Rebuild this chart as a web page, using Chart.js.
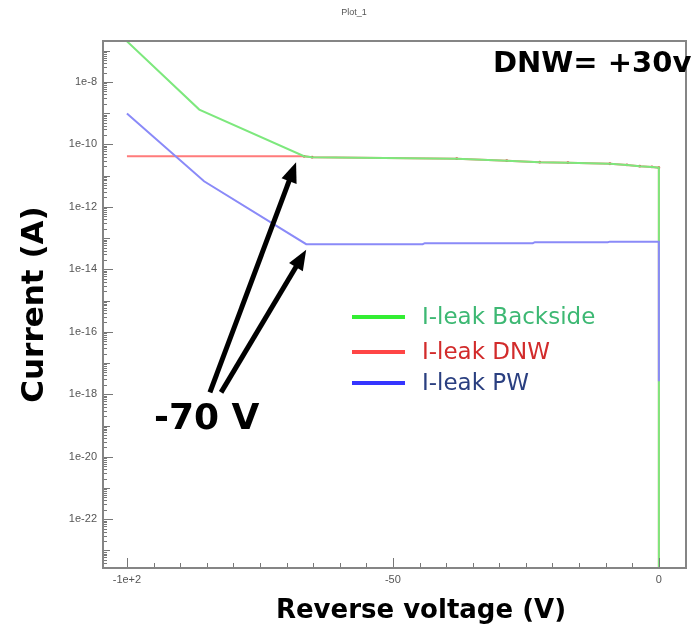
<!DOCTYPE html>
<html><head><meta charset="utf-8">
<script src="https://cdn.jsdelivr.net/npm/chart.js@4.4.1/dist/chart.umd.min.js"></script>
<style>html,body{margin:0;padding:0;background:#fff;}canvas{display:block;}</style>
</head><body>
<canvas id="c" width="698" height="624"></canvas>
<script>
// ---- data ----
const seriesNames = ['I-leak Backside', 'I-leak DNW', 'I-leak PW'];

const backsideV = [-100, -86.4, -66.7, -65.2, -38.0, -28.6, -22.4, -17.1, -9.2, -6.0, -3.6, -1.3, 0, 0];
const backsideI = [2.0e-7, 1.3e-9, 4.2e-11, 3.9e-11, 3.5e-11, 3.0e-11, 2.7e-11, 2.6e-11, 2.4e-11, 2.2e-11, 2.0e-11, 1.9e-11, 1.8e-11, 1e-30];

const dnwV = [-100, -66.7, -65.2, -38.0, -28.6, -22.4, -17.1, -9.2, -6.0, -3.6, -1.3, 0, 0];
const dnwI = [4.2e-11, 4.15e-11, 3.9e-11, 3.5e-11, 3.0e-11, 2.7e-11, 2.6e-11, 2.4e-11, 2.2e-11, 2.0e-11, 1.9e-11, 1.8e-11, 1e-30];

const pwV = [-100, -85.5, -66.3, -44.4, -44.0, -23.7, -23.3, -9.6, -9.2, 0, 0];
const pwI = [9.7e-10, 6.6e-12, 6.4e-14, 6.4e-14, 6.9e-14, 6.9e-14, 7.4e-14, 7.4e-14, 7.7e-14, 7.7e-14, 2.6e-18];

const xTickValues = [-100, -50, 0];
const xTickLabels = ['-1e+2', '-50', '0'];
const yTickValues = [1e-22, 1e-20, 1e-18, 1e-16, 1e-14, 1e-12, 1e-10, 1e-8];
const yTickLabels = ['1e-22', '1e-20', '1e-18', '1e-16', '1e-14', '1e-12', '1e-10', '1e-8'];

const chartTitle = 'Plot_1';
const xTitle = 'Reverse voltage (V)';
const yTitle = 'Current (A)';
const cornerNote = 'DNW= +30v';
const arrowNote = '-70 V';
const arrowNoteV = -85.0, arrowNoteI = 2e-19;
const arrowTailV = [-84.4, -82.3];
const arrowTailI = [1.15e-18, 1.15e-18];
const arrowTipV = [-68.2, -66.3];
const arrowTipI = [2.66e-11, 4.2e-14];

// ---- build ----
const pts = (xs, ys) => xs.map((x, i) => ({x: x, y: ys[i]}));

const lineColors = ['#7de87d', '#ff7b7b', '#8a8af8'];
const legendLineColors = ['#33ee33', '#ff4545', '#3535ff'];
const legendTextColors = ['#3db873', '#d22b2b', '#2a3f80'];

const overlay = {
  id: 'overlay',
  afterDraw(chart) {
    const ctx = chart.ctx;
    const ca = chart.chartArea;
    const xs = chart.scales.x, ys = chart.scales.y;
    ctx.save();
    // inward ticks
    ctx.strokeStyle = '#777';
    ctx.lineWidth = 1;
    ctx.beginPath();
    for (let v = -100; v <= 0; v += 5) {
      const px = Math.round(xs.getPixelForValue(v)) + 0.5;
      const len = (v % 50 === 0) ? 10 : 5;
      ctx.moveTo(px, ca.bottom); ctx.lineTo(px, ca.bottom - len);
    }
    for (let d = -24; d <= -7; d++) {
      for (let m = 1; m <= 9; m++) {
        const val = m * Math.pow(10, d);
        if (val < ys.min || val > ys.max) continue;
        const py = Math.round(ys.getPixelForValue(val)) + 0.5;
        let len = 4;
        if (m === 1) len = (d % 2 === 0) ? 10 : 7;
        ctx.moveTo(ca.left, py); ctx.lineTo(ca.left + len, py);
      }
    }
    ctx.stroke();
    // frame
    ctx.strokeStyle = '#858585';
    ctx.lineWidth = 2;
    ctx.strokeRect(ca.left, ca.top, ca.right - ca.left, ca.bottom - ca.top);

    // arrows
    ctx.fillStyle = '#000';
    ctx.strokeStyle = '#000';
    ctx.lineWidth = 5;
    ctx.lineCap = 'butt';
    for (let i = 0; i < arrowTailV.length; i++) {
      const x0 = xs.getPixelForValue(arrowTailV[i]), y0 = ys.getPixelForValue(arrowTailI[i]);
      const x1 = xs.getPixelForValue(arrowTipV[i]), y1 = ys.getPixelForValue(arrowTipI[i]);
      const dx = x1 - x0, dy = y1 - y0, L = Math.hypot(dx, dy);
      const ux = dx / L, uy = dy / L;
      const hl = 20, hw = 8;
      const bx = x1 - ux * hl, by = y1 - uy * hl;
      ctx.beginPath(); ctx.moveTo(x0, y0); ctx.lineTo(bx + ux * 2, by + uy * 2); ctx.stroke();
      ctx.beginPath();
      ctx.moveTo(x1, y1);
      ctx.lineTo(bx - uy * hw, by + ux * hw);
      ctx.lineTo(bx + uy * hw, by - ux * hw);
      ctx.closePath(); ctx.fill();
    }
    // -70 V text
    ctx.font = 'bold 36px "DejaVu Sans"';
    ctx.textAlign = 'center';
    ctx.textBaseline = 'alphabetic';
    ctx.fillText(arrowNote, xs.getPixelForValue(arrowNoteV), ys.getPixelForValue(arrowNoteI) + 13);

    // corner note
    ctx.font = 'bold 29px "DejaVu Sans"';
    ctx.textAlign = 'left';
    ctx.fillText(cornerNote, 493, 72);

    // title
    ctx.font = '9px "Liberation Sans"';
    ctx.fillStyle = '#555';
    ctx.textAlign = 'center';
    ctx.fillText(chartTitle, 354, 15);

    // x title
    ctx.font = 'bold 26px "DejaVu Sans"';
    ctx.fillStyle = '#000';
    ctx.fillText(xTitle, 421, 618);

    // legend
    const ly = [317, 352, 383];
    ctx.textAlign = 'left';
    ctx.textBaseline = 'middle';
    ctx.font = '23px "DejaVu Sans"';
    for (let i = 0; i < seriesNames.length; i++) {
      ctx.strokeStyle = legendLineColors[i];
      ctx.lineWidth = 4;
      ctx.beginPath(); ctx.moveTo(352, ly[i]); ctx.lineTo(405, ly[i]); ctx.stroke();
      ctx.fillStyle = legendTextColors[i];
      ctx.fillText(chart.data.datasets[i].label, 422, ly[i] + 1);
    }
    ctx.restore();
  }
};

new Chart(document.getElementById('c'), {
  type: 'line',
  data: {
    datasets: [
      {label: seriesNames[0], data: pts(backsideV, backsideI), order: 1, borderColor: lineColors[0], borderWidth: 2, pointRadius: 0, tension: 0},
      {label: seriesNames[1], data: pts(dnwV, dnwI), order: 2, borderColor: lineColors[1], borderWidth: 2, tension: 0,
        pointRadius: c => (c.dataIndex === 0 ? 0 : 1.4), pointBackgroundColor: '#d65050', pointBorderWidth: 0, pointHoverRadius: 0},
      {label: seriesNames[2], data: pts(pwV, pwI), order: 0, borderColor: lineColors[2], borderWidth: 2, pointRadius: 0, tension: 0}
    ]
  },
  options: {
    responsive: false,
    animation: false,
    devicePixelRatio: 1,
    events: [],
    layout: {padding: {top: 41, right: 12, left: 0, bottom: 0}},
    plugins: {legend: {display: false}, title: {display: false}, tooltip: {enabled: false}},
    scales: {
      x: {
        type: 'linear', min: -104.5, max: 5.1,
        grid: {display: false, drawTicks: false},
        border: {display: false},
        afterBuildTicks: s => { s.ticks = xTickValues.map(v => ({value: v})); },
        afterFit: s => { s.height = 56; },
        ticks: {
          autoSkip: false, maxRotation: 0, padding: 5,
          color: '#555', font: {family: 'Liberation Sans', size: 11},
          callback: (v, i) => xTickLabels[i]
        }
      },
      y: {
        type: 'logarithmic', min: 2.75e-24, max: 2.04e-7,
        grid: {display: false, drawTicks: false},
        border: {display: false},
        afterBuildTicks: s => { s.ticks = yTickValues.map(v => ({value: v})); },
        afterFit: s => { s.width = 103; },
        title: {display: true, text: yTitle, color: '#000',
          font: {family: 'DejaVu Sans', size: 31, weight: 'bold'}, padding: {top: 16, bottom: 0}},
        ticks: {
          autoSkip: false, padding: 6,
          color: '#555', font: {family: 'Liberation Sans', size: 11},
          callback: (v, i) => yTickLabels[i]
        }
      }
    }
  },
  plugins: [overlay]
});
</script>
</body></html>
